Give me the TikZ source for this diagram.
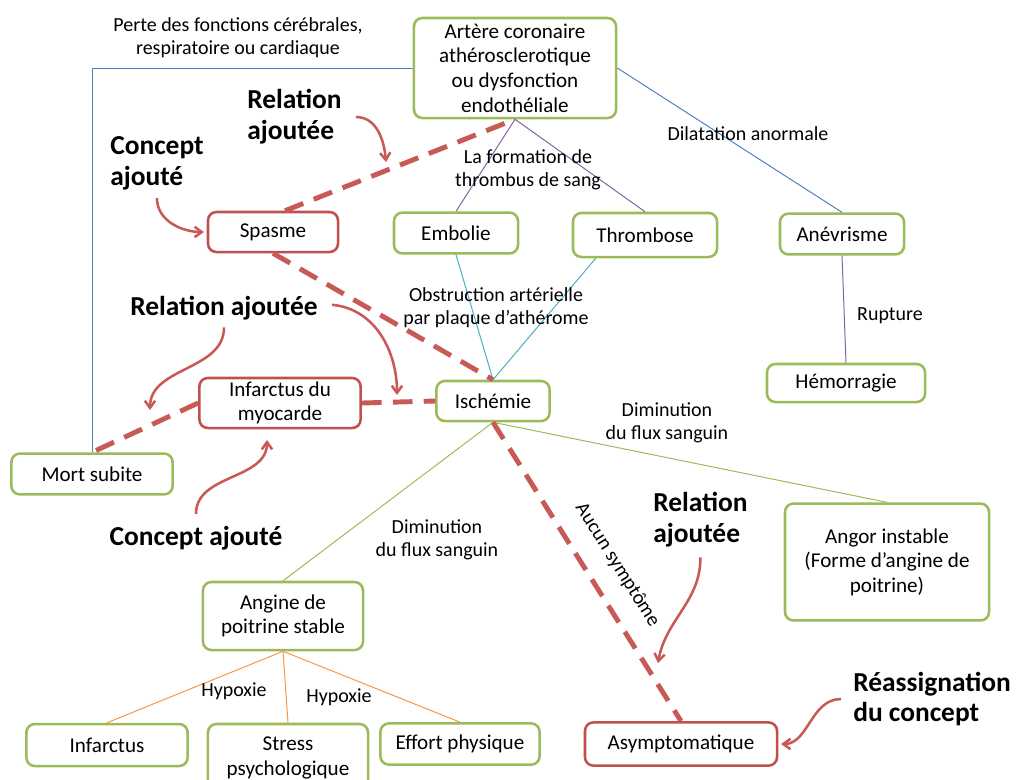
\documentclass[tikz,border=0pt]{standalone}
\usepackage{fontspec}
\setmainfont{Carlito}
\usetikzlibrary{arrows.meta}
\tikzset{>={Straight Barb[width=2.6mm,length=1.8mm]}}

\definecolor{cgreen}{RGB}{155,187,89}
\definecolor{cred}{RGB}{192,80,77}
\definecolor{cdash}{RGB}{200,90,86}
\definecolor{cblue}{RGB}{79,129,189}
\definecolor{cpurple}{RGB}{128,100,162}
\definecolor{ccyan}{RGB}{75,172,198}
\definecolor{corange}{RGB}{247,150,70}

\begin{document}
\begin{tikzpicture}[x=0.025cm,y=0.025cm]
  \tikzstyle{cnode} = [draw=cgreen, line width=1.8pt, rounded corners=6pt, align=center, inner sep=0pt, font=\fontsize{15}{17.5}\selectfont]
  \tikzstyle{rnode} = [cnode, draw=cred]
  \tikzstyle{lbl} = [text=black, align=center, inner sep=0pt, font=\fontsize{14.2}{16.5}\selectfont]
  \tikzstyle{note} = [align=left, inner sep=0pt, font=\fontsize{19.5}{22}\selectfont\bfseries]
  \tikzstyle{link} = [line width=0.7pt]
  \tikzstyle{added} = [cdash, line width=3.5pt, dash pattern=on 14pt off 8pt]
  \tikzstyle{hint} = [->, cdash, line width=1.8pt]

  \useasboundingbox (0,0) rectangle (1016,-779);

  % concepts
  \node[cnode, minimum width=5.05cm, minimum height=2.5cm] (artere) at (515,-68) {Artère coronaire\\athérosclerotique\\ou dysfonction\\endothéliale};
  \node[rnode, minimum width=3.25cm, minimum height=1cm] (spasme) at (273,-232) {Spasme};
  \node[cnode, minimum width=3.1cm, minimum height=1.02cm] (embolie) at (456,-233) {Embolie};
  \node[cnode, minimum width=3.6cm, minimum height=1.1cm] (thrombose) at (645,-235) {Thrombose};
  \node[cnode, minimum width=3.1cm, minimum height=1.02cm] (anevrisme) at (842,-234) {Anévrisme};
  \node[cnode, minimum width=3.95cm, minimum height=0.95cm] (hemorragie) at (846,-383) {Hémorragie};
  \node[rnode, minimum width=4.03cm, minimum height=1.25cm] (infmyo) at (280,-403) {Infarctus du\\myocarde};
  \node[cnode, minimum width=2.83cm, minimum height=1cm] (ischemie) at (493,-401) {Ischémie};
  \node[cnode, minimum width=4.03cm, minimum height=1.02cm] (mort) at (92,-474) {Mort subite};
  \node[cnode, minimum width=5.1cm, minimum height=2.92cm] (angor) at (887,-562) {Angor instable\\(Forme d’angine de\\poitrine)};
  \node[cnode, minimum width=4cm, minimum height=1.7cm] (angine) at (283,-616) {Angine de\\poitrine stable};
  \node[cnode, minimum width=4.03cm, minimum height=1.05cm] (infarctus) at (107,-745) {Infarctus};
  \node[cnode, minimum width=4cm, minimum height=1.7cm] (stress) at (288,-758) {Stress\\psychologique};
  \node[cnode, minimum width=3.98cm, minimum height=1.03cm] (effort) at (460,-744) {Effort physique};
  \node[rnode, minimum width=4.8cm, minimum height=1.08cm] (asympto) at (681,-744) {Asymptomatique};

  % relations
  \draw[link, cblue] (artere.west) -| (mort.north);
  \draw[link, cpurple] (artere.south) -- (embolie.north);
  \draw[link, cpurple] (artere.south) -- (thrombose.north);
  \draw[link, cblue] (artere.east) -- (anevrisme.north);
  \draw[link, cpurple] (anevrisme.south) -- (hemorragie.north);
  \draw[link, ccyan] (embolie.south) -- (ischemie.north);
  \draw[link, ccyan] ([xshift=0.6cm]thrombose.south west) -- (ischemie.north);
  \draw[link, cgreen] (ischemie.south) -- (angine.north);
  \draw[link, cgreen] (ischemie.south) -- (angor.north);
  \draw[link, corange] (angine.south) -- (infarctus.north);
  \draw[link, corange] (angine.south) -- (stress.north);
  \draw[link, corange] (angine.south) -- (effort.north);

  \node[lbl] (perte) at (238,-38) {Perte des fonctions cérébrales,\\respiratoire ou cardiaque};
  \node[lbl] (thrombus) at (528,-170) {La formation de\\thrombus de sang};
  \node[lbl] (dilat) at (748,-134) {Dilatation anormale};
  \node[lbl] (rupture) at (890,-316) {Rupture};
  \node[lbl] (obstr) at (496,-308) {Obstruction artérielle\\par plaque d’athérome};
  \node[lbl] (dimA) at (667,-423) {Diminution\\du flux sanguin};
  \node[lbl] (dimB) at (437,-540) {Diminution\\du flux sanguin};
  \node[lbl] (hypA) at (234,-691) {Hypoxie};
  \node[lbl] (hypB) at (339,-697) {Hypoxie};

  % added relations
  \draw[added] ([xshift=0.3cm]spasme.north) -- (artere.south);
  \draw[added] (spasme.south) -- (ischemie.north);
  \draw[added] (infmyo.east) -- (ischemie.west);
  \draw[added] (infmyo.west) -- (mort.north);
  \draw[added] (ischemie.south) -- node[lbl, sloped, above=13pt, pos=0.53] {Aucun symptôme} (asympto.north);

  % remarks
  \node[note, anchor=west] (noteA) at (247,-117) {Relation\\ajoutée};
  \node[note, anchor=west] (noteB) at (110,-163) {Concept\\ajouté};
  \node[note] (noteC) at (224,-308) {Relation ajoutée};
  \node[note] (noteD) at (196,-538) {Concept ajouté};
  \node[note, anchor=west] (noteE) at (653,-520) {Relation\\ajoutée};
  \node[note, anchor=west] (noteF) at (853,-699) {Réassignation\\du concept};

  \coordinate (hintA) at (386,-162);
  \coordinate (hintC) at (150,-410);
  \coordinate (hintC2) at (397,-395);
  \coordinate (hintD) at (267,-440);
  \coordinate (hintE) at (658,-663);

  \draw[hint] ([xshift=0.35cm]noteA.east) to[out=0, in=95] (hintA);
  \draw[hint, shorten >=2pt] ([yshift=-0.2cm]noteB.south) to[out=-90, in=180] (spasme.west);
  \draw[hint] ([yshift=-0.18cm]noteC.south) to[out=-90, in=90] (hintC);
  \draw[hint] ([xshift=0.35cm, yshift=0.08cm]noteC.east) to[out=-5, in=90] (hintC2);
  \draw[hint] ([yshift=0.3cm]noteD.north) to[out=90, in=-90] (hintD);
  \draw[hint] ([yshift=-0.24cm]noteE.south) to[out=-90, in=80] (hintE);
  \draw[hint, shorten >=2pt] ([xshift=-0.3cm]noteF.west) to[out=180, in=0] (asympto.east);
\end{tikzpicture}
\end{document}
